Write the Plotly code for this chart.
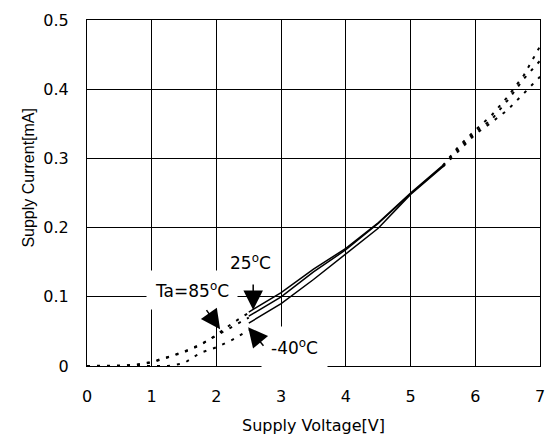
import plotly.graph_objects as go

# Supply current vs. supply voltage at three ambient temperatures
# Dotted: low- and high-voltage regions; solid: 2.5 V .. 5.5 V
volt_low = [0, 0.25, 0.5, 0.75, 1.0, 1.25, 1.5, 1.75, 2.0, 2.25, 2.5]
cur_low_25 = [0, 0, 0, 0.001, 0.005, 0.012, 0.020, 0.030, 0.045, 0.062, 0.077]
cur_low_85 = [0, 0, 0, 0.002, 0.006, 0.013, 0.021, 0.031, 0.044, 0.057, 0.070]
cur_low_m40 = [0, 0, 0, 0, 0, 0, 0.004, 0.019, 0.027, 0.038, 0.052]

volt_mid = [2.5, 3.0, 3.5, 4.0, 4.5, 5.0, 5.5]
cur_mid_25 = [0.078, 0.106, 0.140, 0.170, 0.207, 0.250, 0.290]
cur_mid_85 = [0.072, 0.100, 0.136, 0.168, 0.206, 0.249, 0.289]
cur_mid_m40 = [0.062, 0.090, 0.125, 0.162, 0.199, 0.248, 0.288]

volt_high = [5.5, 5.75, 6.0, 6.25, 6.5, 6.75, 7.0]
cur_high_25 = [0.290, 0.318, 0.341, 0.362, 0.389, 0.420, 0.462]
cur_high_85 = [0.289, 0.315, 0.338, 0.356, 0.384, 0.415, 0.441]
cur_high_m40 = [0.288, 0.312, 0.335, 0.352, 0.370, 0.394, 0.418]

x_ticks = [0, 1, 2, 3, 4, 5, 6, 7]
y_ticks = [0, 0.1, 0.2, 0.3, 0.4, 0.5]
y_tick_text = ["0", "0.1", "0.2", "0.3", "0.4", "0.5"]

FONT = "DejaVu Sans, sans-serif"
FONT_V = "Liberation Sans, Arial, sans-serif"
dotted = dict(color="black", width=2, dash="3px,7px")
solid = dict(color="black", width=1.5)

fig = go.Figure()
for v, series, style in [
    (volt_low, [cur_low_25, cur_low_85, cur_low_m40], dotted),
    (volt_mid, [cur_mid_25, cur_mid_85, cur_mid_m40], solid),
    (volt_high, [cur_high_25, cur_high_85, cur_high_m40], dotted),
]:
    for s in series:
        fig.add_trace(go.Scatter(x=v, y=s, mode="lines", line=style,
                                 showlegend=False, hoverinfo="skip"))

label_font = dict(family=FONT, size=17, color="black")
annotations = [
    dict(x=1.63, y=0.110, text="Ta=85<sup>o</sup>C", showarrow=False,
         bgcolor="white", borderpad=8, font=label_font),
    dict(x=2.53, y=0.150, text="25<sup>o</sup>C", showarrow=False,
         bgcolor="white", borderpad=4, font=label_font),
    dict(x=3.2, y=0.027, text="-40<sup>o</sup>C", showarrow=False,
         bgcolor="white", borderpad=9, font=label_font),
]
# arrows: (tail V, tail I) -> (tip V, tip I)
arrows = [
    (1.83, 0.083, 2.057, 0.053),
    (2.568, 0.120, 2.568, 0.081),
    (2.746, 0.027, 2.49, 0.056),
]
for ax, ay, x, y in arrows:
    annotations.append(dict(x=x, y=y, ax=ax, ay=ay, axref="x", ayref="y",
                            xref="x", yref="y", text="", showarrow=True,
                            arrowhead=2, arrowsize=2.6, arrowwidth=1.5,
                            arrowcolor="black"))

annotations.append(dict(x=-0.153, y=0.545, xref="paper", yref="paper",
                        text="Supply Current[mA]", textangle=-90,
                        showarrow=False, font=dict(family=FONT_V, size=16, color="black")))

fig.update_layout(
    width=553, height=444,
    margin=dict(l=87, r=8, t=20, b=78),
    paper_bgcolor="white", plot_bgcolor="white",
    font=dict(family=FONT, size=16, color="black"),
    annotations=annotations,
)
fig.update_xaxes(range=[0, 7], tickvals=x_ticks, showgrid=True, gridcolor="black",
                 gridwidth=1, showline=True, linecolor="black", linewidth=1, mirror=True,
                 ticks="", ticklabelstandoff=16, zeroline=False,
                 title=dict(text="Supply Voltage[V]", standoff=14,
                            font=dict(family=FONT, size=16)))
fig.update_yaxes(range=[0, 0.5], tickvals=y_ticks, ticktext=y_tick_text, showgrid=True,
                 gridcolor="black", gridwidth=1, showline=True, linecolor="black",
                 linewidth=1, mirror=True, ticks="", ticklabelstandoff=14, zeroline=False)

fig.write_html("out.html")
